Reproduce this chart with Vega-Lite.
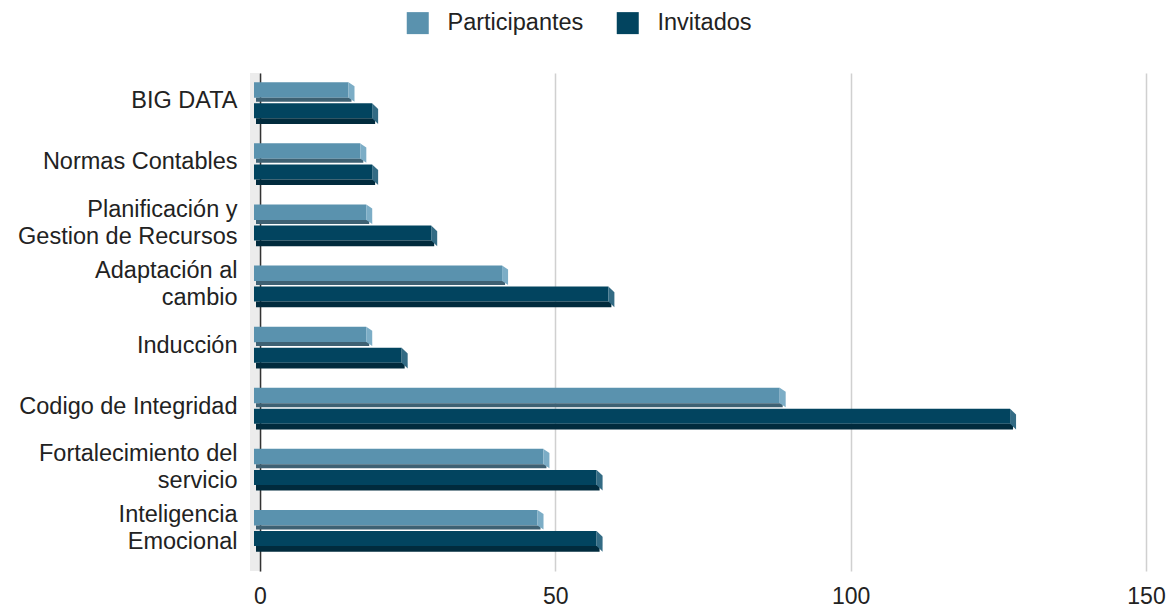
{
  "$schema": "https://vega.github.io/schema/vega-lite/v6.json",
  "width": 886,
  "height": 498,
  "autosize": {"type": "none"},
  "padding": {"left": 260, "top": 73, "right": 27, "bottom": 38},
  "background": "white",
  "config": {"font": "Liberation Sans", "view": {"stroke": null}},
  "data": {
    "values": [
      {"cat": "BIG DATA", "serie": "Participantes", "v": 16},
      {"cat": "BIG DATA", "serie": "Invitados", "v": 20},
      {"cat": "Normas Contables", "serie": "Participantes", "v": 18},
      {"cat": "Normas Contables", "serie": "Invitados", "v": 20},
      {"cat": "Planificación y\nGestion de Recursos", "serie": "Participantes", "v": 19},
      {"cat": "Planificación y\nGestion de Recursos", "serie": "Invitados", "v": 30},
      {"cat": "Adaptación al\ncambio", "serie": "Participantes", "v": 42},
      {"cat": "Adaptación al\ncambio", "serie": "Invitados", "v": 60},
      {"cat": "Inducción", "serie": "Participantes", "v": 19},
      {"cat": "Inducción", "serie": "Invitados", "v": 25},
      {"cat": "Codigo de Integridad", "serie": "Participantes", "v": 89},
      {"cat": "Codigo de Integridad", "serie": "Invitados", "v": 128},
      {"cat": "Fortalecimiento del\nservicio", "serie": "Participantes", "v": 49},
      {"cat": "Fortalecimiento del\nservicio", "serie": "Invitados", "v": 58},
      {"cat": "Inteligencia\nEmocional", "serie": "Participantes", "v": 48},
      {"cat": "Inteligencia\nEmocional", "serie": "Invitados", "v": 58}
    ]
  },
  "layer": [
    {
      "mark": {"type": "rule", "color": "#ececec", "strokeWidth": 9, "xOffset": -5.5},
      "encoding": {
        "x": {"datum": 0, "type": "quantitative", "scale": {"domain": [0, 150], "nice": false}}
      }
    },
    {
      "transform": [{"filter": "datum.serie == 'Participantes'"}],
      "mark": {"type": "bar", "height": 15.5, "yOffset": -18.15, "xOffset": -6, "x2Offset": -6},
      "encoding": {
        "y": {"field": "cat", "type": "nominal", "sort": null, "scale": {"paddingInner": 0, "paddingOuter": 0.075},
          "axis": {"title": null, "domain": true, "domainColor": "#333333", "domainWidth": 1.5, "ticks": false, "tickSize": 0, "labelPadding": 23, "labelFontSize": 23.5, "labelColor": "#222222", "labelLimit": 300, "labelLineHeight": 27, "labelExpr": "split(datum.label, '\\n')",
            "labelOffset": {"condition": {"test": "indexof(datum.value, '\\n') >= 0", "value": -20.5}, "value": -7}}},
        "x": {"field": "v", "type": "quantitative", "scale": {"domain": [0, 150], "nice": false},
          "axis": {"title": null, "values": [0, 50, 100, 150], "grid": true, "gridColor": "#d0d0d0", "gridWidth": 1.5, "domain": false, "ticks": false, "tickSize": 0, "labelPadding": 14.5, "labelFontSize": 23, "labelColor": "#222222", "labelFlush": false}},
        "x2": {"datum": 0},
        "color": {"field": "serie", "type": "nominal", "scale": {"domain": ["Participantes", "Invitados"], "range": ["#5a92ae", "#02445f"]},
          "legend": {"orient": "none", "legendX": 146, "legendY": -62, "direction": "horizontal", "title": null, "symbolType": "square", "symbolSize": 484, "symbolStrokeWidth": 0, "labelFontSize": 23.5, "labelColor": "#222222", "labelOffset": 18, "columnPadding": 32, "labelFont": "Liberation Sans"}}
      }
    },
    {
      "transform": [{"filter": "datum.serie == 'Participantes'"}],
      "mark": {"type": "bar", "height": 4, "yOffset": -8.45, "xOffset": -3, "x2Offset": -4, "color": "#3e6173"},
      "encoding": {
        "y": {"field": "cat", "type": "nominal", "sort": null},
        "x": {"field": "v", "type": "quantitative"},
        "x2": {"datum": 0}
      }
    },
    {
      "transform": [{"filter": "datum.serie == 'Participantes'"}],
      "mark": {"type": "point", "shape": "M-0.309,-1L0.309,-0.588L0.309,1L-0.309,0.588Z", "size": 376, "filled": true, "fill": "#7cadc6", "strokeWidth": 0, "opacity": 1, "xOffset": -3, "yOffset": -16.15},
      "encoding": {
        "y": {"field": "cat", "type": "nominal", "sort": null},
        "x": {"field": "v", "type": "quantitative"}
      }
    },
    {
      "transform": [{"filter": "datum.serie == 'Invitados'"}],
      "mark": {"type": "bar", "height": 15, "yOffset": 2.65, "xOffset": -6, "x2Offset": -6},
      "encoding": {
        "y": {"field": "cat", "type": "nominal", "sort": null},
        "x": {"field": "v", "type": "quantitative"},
        "x2": {"datum": 0},
        "color": {"field": "serie", "type": "nominal"}
      }
    },
    {
      "transform": [{"filter": "datum.serie == 'Invitados'"}],
      "mark": {"type": "bar", "height": 5.7, "yOffset": 13, "xOffset": -3, "x2Offset": -4, "color": "#012b3d"},
      "encoding": {
        "y": {"field": "cat", "type": "nominal", "sort": null},
        "x": {"field": "v", "type": "quantitative"},
        "x2": {"datum": 0}
      }
    },
    {
      "transform": [{"filter": "datum.serie == 'Invitados'"}],
      "mark": {"type": "point", "shape": "M-0.29,-1L0.29,-0.449L0.29,1L-0.29,0.449Z", "size": 428.5, "filled": true, "fill": "#336b84", "strokeWidth": 0, "opacity": 1, "xOffset": -3, "yOffset": 5.5},
      "encoding": {
        "y": {"field": "cat", "type": "nominal", "sort": null},
        "x": {"field": "v", "type": "quantitative"}
      }
    }
  ]
}
